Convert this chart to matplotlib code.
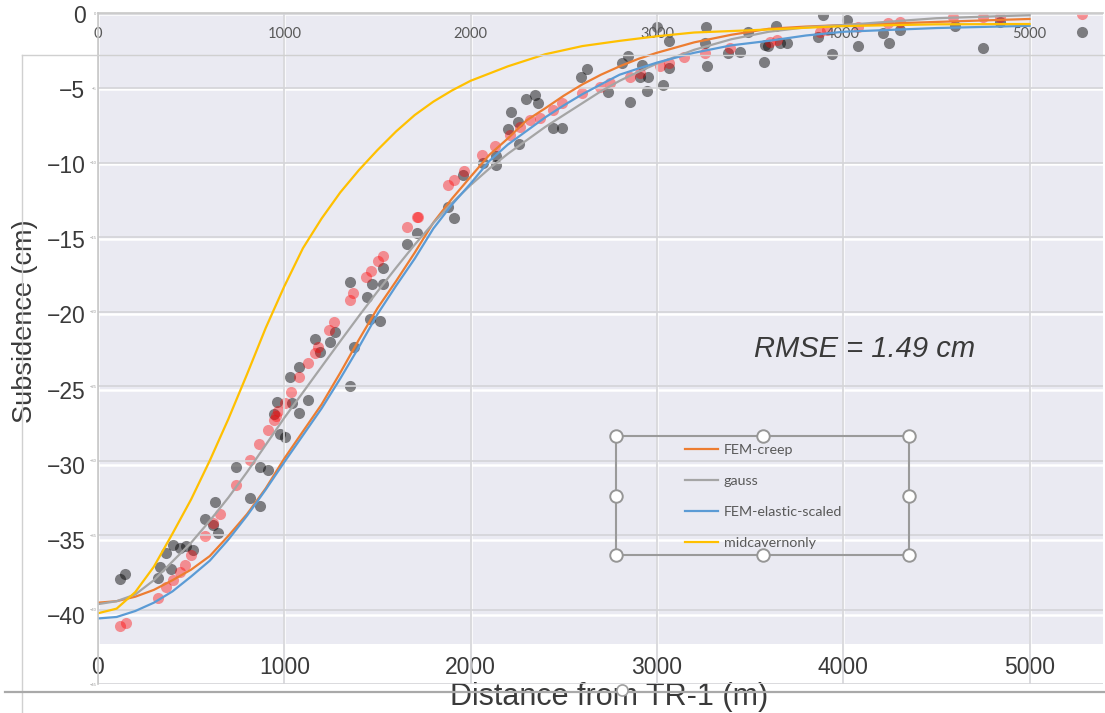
import matplotlib.pyplot as plt
from matplotlib.lines import Line2D
from matplotlib.patches import Rectangle

plt.rcParams['font.family'] = ['Liberation Sans', 'DejaVu Sans']

# observed subsidence, grey and red survey sets (distance m, subsidence cm)
grey_x = [116, 147, 331, 322, 367, 403, 439, 474, 510, 393, 573, 626, 617, 644,
          741, 814, 868, 870, 914, 1442, 1460, 1514, 1272, 1165, 1245, 1192, 1081,
          1031, 959, 1040, 1129, 1081, 945, 977, 1004, 1376, 1353, 2261, 2136, 2136,
          2068, 1961, 1880, 1913, 1711, 1660, 1528, 1469, 1531, 1353, 3067, 2846,
          2811, 2918, 3067, 2909, 2954, 3031, 2945, 2856, 2739, 2626, 2591, 2346,
          2297, 2363, 2215, 2253, 2202, 2444, 2489, 2999, 3264, 3639, 4019, 3491,
          3267, 3258, 3383, 3446, 3580, 3598, 3661, 3697, 3866, 3577, 3938, 4081,
          4215, 4247, 4305, 4600, 4752, 4842, 5280, 3890]
grey_y = [-37.62, -37.27, -36.78, -37.56, -35.86, -35.35, -35.56, -35.41, -35.68,
          -36.96, -33.63, -32.5, -34.01, -34.53, -30.14, -32.2, -32.72, -30.14,
          -30.35, -18.83, -20.32, -20.42, -21.15, -21.66, -21.86, -22.48, -23.52,
          -24.19, -25.8, -25.91, -25.69, -26.58, -26.63, -27.95, -28.13, -22.15,
          -24.74, -8.66, -9.46, -10.06, -9.94, -10.73, -12.84, -13.6, -14.56, -15.32,
          -16.89, -17.97, -17.99, -17.82, -1.79, -2.81, -3.29, -3.41, -3.63, -4.18,
          -4.18, -4.74, -5.12, -5.85, -5.18, -3.69, -4.22, -5.4, -5.69, -5.92, -6.51,
          -7.18, -7.68, -7.57, -7.57, -0.86, -0.9, -0.81, -0.42, -1.19, -3.47, -1.96,
          -2.63, -2.52, -2.07, -2.14, -1.96, -1.92, -1.57, -3.18, -2.68, -2.14, -1.3,
          -1.96, -1.08, -0.81, -2.3, -0.53, -1.19, -0.1]

red_x = [116, 152, 322, 367, 403, 439, 465, 501, 573, 617, 653, 742, 1370, 1353,
         1268, 1242, 1182, 1165, 1129, 1081, 1034, 1004, 968, 955, 945, 914, 866,
         816, 2131, 2060, 1965, 1911, 1877, 1711, 1715, 1660, 1531, 1505, 1465, 1439,
         3145, 3067, 3017, 2909, 2856, 2748, 2695, 2596, 2489, 2444, 2373, 2319,
         2265, 2212, 3258, 3392, 3607, 3643, 3876, 3912, 4242, 4305, 4591, 4752,
         4842, 5280, 4081]
red_y = [-40.73, -40.55, -38.85, -38.12, -37.67, -37.11, -36.67, -36.0, -34.75,
         -33.85, -33.3, -31.35, -18.6, -19.04, -20.52, -21.04, -22.15, -22.55,
         -23.22, -24.19, -25.14, -25.91, -26.41, -26.76, -27.02, -27.69, -28.62,
         -29.69, -8.79, -9.4, -10.44, -11.05, -11.39, -13.5, -13.55, -14.17, -16.12,
         -16.43, -17.09, -17.53, -2.89, -3.25, -3.47, -3.96, -4.18, -4.58, -4.85,
         -5.29, -5.96, -6.4, -6.95, -7.07, -7.55, -8.06, -2.63, -2.3, -1.85, -1.74,
         -1.19, -1.08, -0.59, -0.53, -0.23, -0.23, -0.19, -0.01, -0.86]

# model profiles
dist = [0, 100, 200, 300, 400, 500, 600, 700, 800, 900, 1000, 1100, 1200, 1300,
        1400, 1500, 1600, 1700, 1800, 1900, 2000, 2100, 2200, 2300, 2400, 2500,
        2600, 2700, 2800, 2900, 3000, 3200, 3400, 3600, 3800, 4000, 4500, 5000]
fem_creep = [-39.54, -39.44, -39.14, -38.68, -38.03, -37.32, -36.41, -35.05, -33.59,
             -31.87, -29.86, -28.04, -26.23, -24.11, -21.89, -19.77, -17.95, -16.04,
             -14.02, -12.41, -10.94, -9.48, -8.37, -7.16, -6.35, -5.5, -4.74, -4.09,
             -3.53, -3.03, -2.62, -1.92, -1.41, -1.01, -0.86, -0.76, -0.55, -0.35]
gauss = [-39.64, -39.44, -38.99, -38.03, -36.77, -35.51, -34.04, -32.48, -30.77,
         -28.95, -27.13, -25.42, -23.7, -21.99, -20.3, -18.65, -17.05, -15.5,
         -14.05, -12.7, -11.5, -10.4, -9.4, -8.5, -7.6, -6.8, -6.0, -5.2,
         -4.5, -3.9, -3.35, -2.42, -1.71, -1.21, -0.91, -0.76, -0.3, -0.1]
fem_elastic = [-40.6, -40.5, -40.1, -39.54, -38.78, -37.78, -36.72, -35.3, -33.7,
               -31.95, -30.1, -28.3, -26.5, -24.5, -22.39, -20.17, -18.26, -16.44,
               -14.42, -12.81, -11.4, -9.89, -8.78, -7.87, -6.96, -6.15, -5.4, -4.74,
               -4.09, -3.68, -3.28, -2.62, -2.12, -1.82, -1.46, -1.21, -0.96, -0.81]

dist_mid = [0, 100, 200, 300, 400, 500, 600, 700, 800, 900, 1000, 1100, 1200, 1300,
            1400, 1500, 1600, 1700, 1800, 1900, 2000, 2200, 2400, 2600, 2800, 3000,
            3200, 3500, 4000, 4500, 5000]
midcavern = [-40.25, -39.94, -38.83, -37.12, -34.9, -32.6, -30.0, -27.2, -24.2,
             -21.1, -18.3, -15.74, -13.75, -12.0, -10.5, -9.15, -7.9, -6.8, -5.9,
             -5.15, -4.5, -3.53, -2.72, -2.17, -1.82, -1.51, -1.26, -1.11, -0.83,
             -0.71, -0.69]

x_ticks = [0, 1000, 2000, 3000, 4000, 5000]
y_ticks = [-40, -35, -30, -25, -20, -15, -10, -5, 0]
y_ticks_model = [-45, -40, -35, -30, -25, -20, -15, -10, -5, 0]

W, H = 1105, 713
fig = plt.figure(figsize=(W / 100, H / 100), dpi=100)


def fx(px):
    return px / W


def fy(py):
    return 1 - py / H


# scatter panel (seaborn darkgrid look)
ax = fig.add_axes([fx(98), fy(644), fx(1103) - fx(98), fy(13) - fy(644)])
ax.set_facecolor('#eaeaf2')
for s in ax.spines.values():
    s.set_visible(False)
ax.set_xlim(0, 5394)
ax.set_ylim(-41.93, 0.05)
ax.set_xticks(x_ticks)
ax.set_yticks(y_ticks)
ax.grid(color='white', lw=1.8)
ax.set_axisbelow(True)
ax.tick_params(length=0, labelsize=16.5, labelcolor='#3a3a3a', pad=9)
ax.scatter(grey_x, grey_y, s=64, color='black', alpha=0.47, lw=0)
ax.scatter(red_x, red_y, s=64, color='red', alpha=0.4, lw=0)
ax.set_xlabel('Distance from TR-1 (m)', fontsize=22, color='#3a3a3a')
ax.xaxis.set_label_coords(0.5085, -0.061)
ax.set_ylabel('Subsidence (cm)', fontsize=19.5, color='#3a3a3a')
ax.yaxis.set_label_coords(-0.0597, 0.512)

# model curves panel on top
ax2 = fig.add_axes([fx(98), fy(684), fx(1103) - fx(98), fy(13) - fy(684)], sharex=ax)
ax2.set_facecolor('none')
ax2.set_ylim(-45, 0.05)
ax2.set_yticks(y_ticks_model)
for side in ['right', 'bottom']:
    ax2.spines[side].set_visible(False)
for side in ['left', 'top']:
    ax2.spines[side].set_color('#c8c8c8')
    ax2.spines[side].set_linewidth(1.2)
ax2.grid(color='#d4d4d8', lw=1.2)
ax2.xaxis.tick_top()
ax2.tick_params(axis='x', length=0, labelsize=10.5, labelcolor='#595959', pad=-20,
                labelfontfamily='Lato')
ax2.tick_params(axis='y', length=0, labelsize=3, labelcolor='#9a9a9a', pad=1)

l1, = ax2.plot(dist, fem_creep, color='#ED7D31', lw=1.6, label='FEM-creep')
l2, = ax2.plot(dist, gauss, color='#A5A5A5', lw=1.6, label='gauss')
l3, = ax2.plot(dist, fem_elastic, color='#5B9BD5', lw=1.6, label='FEM-elastic-scaled')
l4, = ax2.plot(dist_mid, midcavern, color='#FFC000', lw=1.6, label='midcavernonly')

leg = ax2.legend(handles=[l1, l2, l3, l4], loc='upper left',
                 bbox_to_anchor=(fx(685), fy(444)), bbox_transform=fig.transFigure,
                 frameon=False, handlelength=2.3, handletextpad=0.4,
                 labelspacing=1.32, borderpad=0, borderaxespad=0,
                 labelcolor='#595959', prop={'family': 'Lato', 'size': 10.3})

fig.text(fx(865), fy(349), 'RMSE = 1.49 cm', fontsize=21, style='italic',
         color='#3a3a3a', ha='center', va='center')

# selection frame around the legend with grab handles
box_l, box_r, box_t, box_b = 616, 909, 436, 555
fig.add_artist(Rectangle((fx(box_l), fy(box_b)), fx(box_r) - fx(box_l),
                         fy(box_t) - fy(box_b), transform=fig.transFigure,
                         fill=False, edgecolor='#9a9a9a', lw=1.5, zorder=6))
hx = [box_l, (box_l + box_r) / 2, box_r]
hy = [box_t, (box_t + box_b) / 2, box_b]
for px in hx:
    for py in hy:
        if px == hx[1] and py == hy[1]:
            continue
        fig.add_artist(Line2D([fx(px)], [fy(py)], transform=fig.transFigure,
                              marker='o', markersize=9, markerfacecolor='white',
                              markeredgecolor='#969696', markeredgewidth=1.4, zorder=7))

# outer window frame lines
fig.add_artist(Line2D([fx(22), fx(22)], [fy(55), fy(713)], transform=fig.transFigure,
                      color='#d0d0d0', lw=1, zorder=5))
fig.add_artist(Line2D([fx(22), fx(1105)], [fy(55), fy(55)], transform=fig.transFigure,
                      color='#d0d0d0', lw=1, zorder=5))
fig.add_artist(Line2D([fx(5), fx(1105)], [fy(692), fy(692)], transform=fig.transFigure,
                      color='#a9a9a9', lw=1.6, zorder=5))
fig.add_artist(Line2D([fx(622)], [fy(690)], transform=fig.transFigure, marker='o',
                      markersize=8, markerfacecolor='white', markeredgecolor='#a0a0a0',
                      markeredgewidth=1.2, zorder=6))

fig.savefig('out.png', dpi=100)
